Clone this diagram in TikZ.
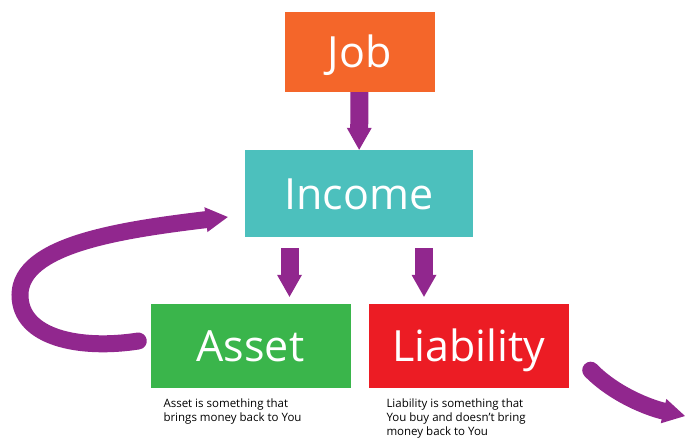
\documentclass[tikz,border=0pt]{standalone}
\usepackage{fontspec}
\setmainfont{Open Sans}
\usepackage{tikz}
\usetikzlibrary{arrows.meta,positioning,calc}
\definecolor{JobOrange}{HTML}{F4662A}
\definecolor{IncomeTeal}{HTML}{4CC0BD}
\definecolor{AssetGreen}{HTML}{3AB54B}
\definecolor{DebtRed}{HTML}{EC1C24}
\definecolor{FlowPurple}{HTML}{91278E}

\begin{document}
\begin{tikzpicture}[x=1pt,y=-1pt,
        tile/.style={minimum width=#1,inner sep=0pt,text=white,
          font=\fontsize{43}{43}\selectfont,text height=31pt,text depth=0pt},
        flow/.style={-{Triangle[width=25pt,length=22pt,line width=0pt]},line width=18pt,FlowPurple},
        loop/.style={-{Triangle[width=25pt,length=22pt,line width=0pt]},line width=17pt,line cap=round,FlowPurple},
        note/.style={anchor=north west,align=left,inner sep=0pt,font=\fontsize{11.5}{14}\selectfont}
      ]
        \useasboundingbox (0,0) rectangle (685,440);
        \node[tile=150pt,minimum height=80pt,fill=JobOrange] (job) at (359.5,52) {Job};
        \node[tile=228pt,minimum height=87pt,fill=IncomeTeal] (income) at (359,193.5) {Income};
        \node[tile=200pt,minimum height=84pt,fill=AssetGreen] (asset) at (250.5,346) {Asset};
        \node[tile=200pt,minimum height=84pt,fill=DebtRed] (liability) at (468.5,346) {Liability};
        \node[note] (asset-note) at ([xshift=13pt,yshift=-10pt]asset.south west)
          {Asset is something that\\brings money back to You};
        \node[note] (liability-note) at ([xshift=18pt,yshift=-10pt]liability.south west)
          {Liability is something that\\You buy and doesn’t bring\\money back to You};
        \coordinate (spill) at (685,416);
        \draw[flow] (job) -- (income);
        \draw[flow,shorten <=11pt,shorten >=7pt] ([xshift=-69.5pt]income.south) -- ([xshift=-69.5pt]income.south |- asset.north);
        \draw[flow,shorten <=11pt,shorten >=7pt] ([xshift=65pt]income.south) -- ([xshift=65pt]income.south |- liability.north);
        % asset feeds income again
        \draw[loop] ([xshift=-12pt,yshift=5pt]asset.west) .. controls (80,350) and (20,338) .. (20,295)
          .. controls (20,245) and (120,230) .. ([xshift=-17pt,yshift=-23.5pt]income.west);
        \draw[loop] ([xshift=22pt,yshift=18pt]liability.south east) .. controls (615,395) and (650,408) .. (spill);
      \end{tikzpicture}
\end{document}
